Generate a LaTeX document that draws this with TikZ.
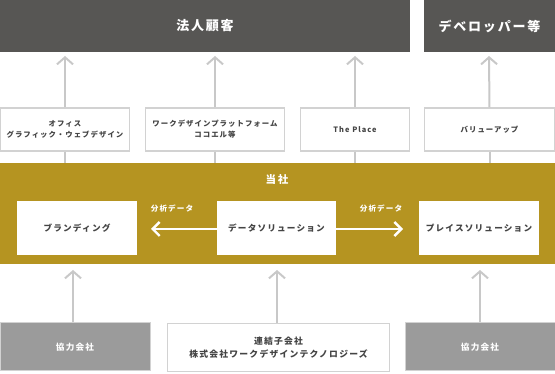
\documentclass[tikz,border=0pt]{standalone}
\usepackage{fontspec}
\setmainfont{Noto Sans CJK JP}
\newfontfamily\jpsp[LetterSpace=14]{Noto Sans CJK JP}
\usetikzlibrary{arrows.meta}
\definecolor{darkbg}{HTML}{575654}
\definecolor{gold}{HTML}{B59421}
\definecolor{arrowgray}{HTML}{C8C8C8}
\definecolor{boxline}{HTML}{D2D2D2}
\definecolor{midgray}{HTML}{9B9B9B}
\definecolor{txt}{HTML}{444444}
\begin{document}
\begin{tikzpicture}[x=1pt,y=-1pt,
  darkbox/.style={rectangle, fill=darkbg, draw=none, text=white, font=\jpsp\bfseries\fontsize{13}{15}\selectfont, inner sep=0pt},
  smallbox/.style={rectangle, fill=white, draw=boxline, line width=1.2pt, text=txt, font=\jpsp\bfseries\fontsize{7.4}{11}\selectfont, align=center, inner sep=0pt},
  innerbox/.style={rectangle, fill=white, draw=none, text=txt, font=\jpsp\bfseries\fontsize{8.6}{10}\selectfont, inner sep=0pt},
  graybox/.style={rectangle, fill=midgray, draw=boxline, line width=1pt, text=white, font=\jpsp\bfseries\fontsize{8.6}{10}\selectfont, inner sep=0pt},
  upar/.style={draw=arrowgray, line width=2pt, -{Straight Barb[length=7pt,width=16pt,line width=2pt]}},
  plainline/.style={draw=arrowgray, line width=2pt},
  whitear/.style={draw=white, line width=2pt, -{Straight Barb[length=7pt,width=14pt,line width=2.4pt]}},
  lbl/.style={text=white, font=\jpsp\bfseries\fontsize{7.6}{9}\selectfont, inner sep=0pt}
]
\useasboundingbox (0,0) rectangle (555,374);
% top
\node[darkbox, minimum width=410pt, minimum height=52pt] (corp) at (205,26) {法人顧客};
\node[darkbox, minimum width=131pt, minimum height=52pt] (dev) at (489.5,26) {デベロッパー等};
% gold band
\node[rectangle, fill=gold, draw=none, minimum width=555pt, minimum height=101pt, inner sep=0pt] (band) at (277.5,213.5) {};
\node[text=white, font=\jpsp\bfseries\fontsize{10.5}{12}\selectfont, inner sep=0pt] (us) at (277,180) {当\,社};
% middle boxes
\node[smallbox, minimum width=129pt, minimum height=43pt] (s1) at (65,129.5) {オフィス\\グラフィック・ウェブデザイン};
\node[smallbox, minimum width=139pt, minimum height=43pt] (s2) at (215,129.5) {ワークデザインプラットフォーム\\ココエル等};
\node[smallbox, minimum width=109pt, minimum height=43pt] (s3) at (355,129.5) {The Place};
\node[smallbox, minimum width=130pt, minimum height=43pt] (s4) at (489.5,129.5) {バリューアップ};
\coordinate (t1) at (65,56);
\coordinate (t2) at (215,56);
\coordinate (t3) at (355,56);
\coordinate (t4) at (489,56);
\draw[upar] (s1.north) -- (t1);
\draw[upar] (s2.north) -- (t2);
\draw[upar] (s3.north) -- (t3);
\draw[upar] (s4.north) -- (t4);
\draw[plainline] (s1.south) -- (s1.south |- band.north);
\draw[plainline] (s2.south) -- (s2.south |- band.north);
\draw[plainline] (s3.south) -- (s3.south |- band.north);
\draw[plainline] (s4.south) -- (s4.south |- band.north);
% inner boxes
\node[innerbox, minimum width=120pt, minimum height=54pt] (brand) at (77,228) {ブランディング};
\node[innerbox, minimum width=119pt, minimum height=54pt] (data) at (276.5,228) {データソリューション};
\node[innerbox, minimum width=120pt, minimum height=54pt] (place) at (479,228) {プレイスソリューション};
\coordinate (la) at (151,229);
\coordinate (ra) at (403,229);
\draw[whitear] (data.west |- la) -- (la);
\draw[whitear] (data.east |- ra) -- (ra);
\node[lbl] (l1) at (172,209) {分析データ};
\node[lbl] (l2) at (381,209) {分析データ};
% bottom boxes
\node[graybox, minimum width=150pt, minimum height=48pt] (b1) at (75,347) {協力会社};
\node[smallbox, font=\jpsp\bfseries\fontsize{8.8}{13}\selectfont, minimum width=222pt, minimum height=48pt] (b2) at (278.5,347.5) {連結子会社\\株式会社ワークデザインテクノロジーズ};
\node[graybox, minimum width=150pt, minimum height=48pt] (b3) at (480,347) {協力会社};
\coordinate (u1) at (73,270);
\coordinate (u2) at (277,270);
\coordinate (u3) at (480,270);
\draw[upar] (b1.north -| u1) -- (u1);
\draw[upar] (b2.north -| u2) -- (u2);
\draw[upar] (b3.north -| u3) -- (u3);
\end{tikzpicture}
\end{document}
